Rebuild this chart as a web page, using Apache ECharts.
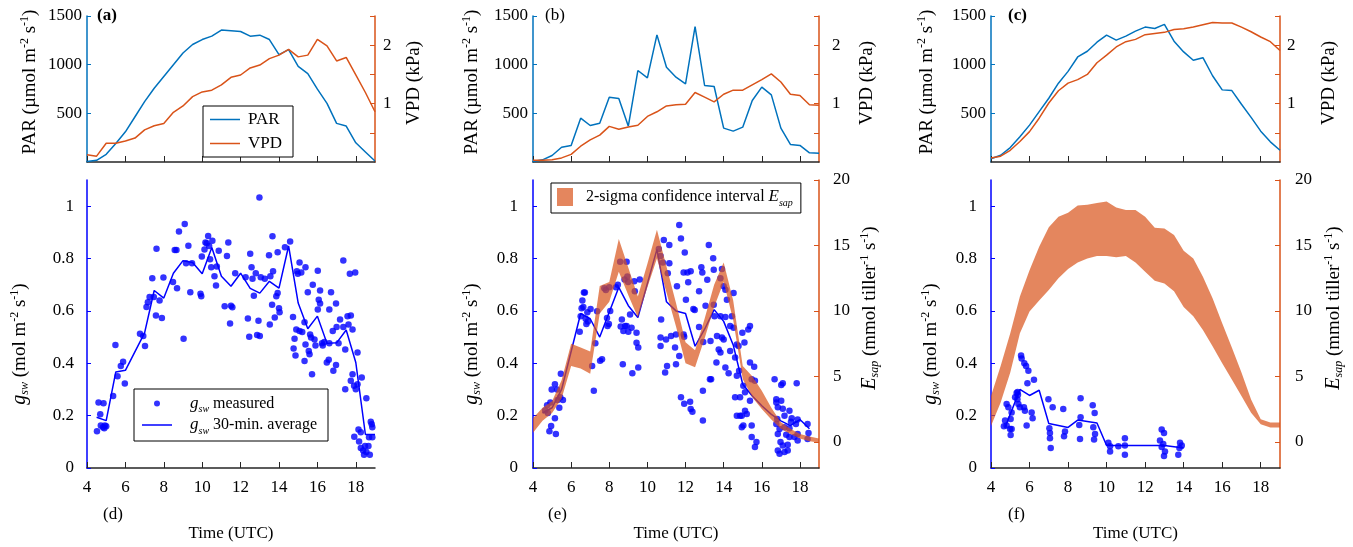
<!DOCTYPE html>
<html>
<head>
<meta charset="utf-8">
<script src="https://cdn.jsdelivr.net/npm/echarts@6.0.0/dist/echarts.min.js"></script>
<style>
  html, body { margin: 0; padding: 0; background: #fff; }
  #chart { width: 1353px; height: 547px; }
</style>
</head>
<body>
<div id="chart"></div>
<script>
// ---------- data ----------
// half-hourly time stamps (UTC) used by the PAR / VPD records and the sap-flow bands
const HOURS = [4, 4.5, 5, 5.5, 6, 6.5, 7, 7.5, 8, 8.5, 9, 9.5, 10, 10.5, 11, 11.5, 12, 12.5, 13, 13.5, 14, 14.5, 15, 15.5, 16, 16.5, 17, 17.5, 18, 18.5, 19];

// PAR (µmol m-2 s-1) and VPD (kPa), days a, b, c
const PAR_A = [5, 17, 79, 190, 310, 465, 620, 758, 879, 1000, 1120, 1207, 1258, 1293, 1355, 1348, 1341, 1293, 1303, 1258, 1103, 1155, 983, 907, 748, 603, 397, 369, 197, 103, 10];
const VPD_A = [0.125, 0.10, 0.32, 0.32, 0.36, 0.41, 0.55, 0.62, 0.66, 0.85, 0.96, 1.12, 1.20, 1.23, 1.32, 1.45, 1.49, 1.61, 1.66, 1.77, 1.83, 1.93, 1.80, 1.83, 2.10, 1.99, 1.73, 1.79, 1.49, 1.19, 0.86];
const PAR_B = [5, 22, 67, 152, 170, 450, 375, 399, 666, 652, 368, 940, 865, 1306, 974, 871, 803, 1392, 786, 776, 348, 317, 358, 632, 769, 690, 348, 180, 170, 94, 91];
const VPD_B = [0.03, 0.03, 0.04, 0.07, 0.13, 0.27, 0.38, 0.46, 0.61, 0.56, 0.60, 0.63, 0.78, 0.86, 0.96, 0.98, 0.99, 1.19, 1.11, 1.03, 1.16, 1.23, 1.23, 1.32, 1.41, 1.51, 1.37, 1.16, 1.14, 0.98, 0.97];
const PAR_C = [34, 69, 148, 259, 379, 517, 655, 810, 931, 1079, 1138, 1231, 1303, 1252, 1293, 1345, 1386, 1372, 1414, 1241, 1131, 1045, 1072, 886, 741, 734, 593, 459, 317, 207, 121];
const VPD_C = [0.07, 0.10, 0.20, 0.35, 0.52, 0.75, 1.01, 1.22, 1.35, 1.41, 1.50, 1.70, 1.83, 1.97, 2.06, 2.10, 2.18, 2.20, 2.22, 2.27, 2.28, 2.31, 2.35, 2.39, 2.38, 2.38, 2.31, 2.23, 2.14, 2.06, 1.91];

// 30-min averages of stomatal conductance g_sw (mol m-2 s-1)
const AVG_T_D = [4.5, 5, 5.5, 6, 7, 7.5, 8, 8.5, 9, 9.5, 10, 10.5, 11, 11.5, 12, 12.5, 13, 13.5, 14, 14.5, 15, 15.5, 16, 16.5, 17, 17.5, 18, 18.5, 19];
const AVG_G_D = [0.194, 0.181, 0.367, 0.373, 0.516, 0.678, 0.649, 0.744, 0.792, 0.785, 0.742, 0.842, 0.732, 0.694, 0.744, 0.686, 0.668, 0.713, 0.687, 0.848, 0.630, 0.532, 0.580, 0.476, 0.478, 0.527, 0.403, 0.128, 0.128];
const AVG_T_E = [4.5, 5, 5.5, 6.5, 7, 7.5, 8.5, 9, 9.5, 10.5, 11, 11.5, 12, 12.5, 13, 13.5, 14, 14.5, 15, 15.5, 16, 16.5, 17, 17.5, 18, 18.5];
const AVG_G_E = [0.21, 0.23, 0.30, 0.59, 0.57, 0.50, 0.69, 0.62, 0.575, 0.835, 0.635, 0.60, 0.59, 0.465, 0.53, 0.605, 0.56, 0.47, 0.32, 0.275, 0.238, 0.205, 0.18, 0.162, 0.185, 0.15];
const AVG_T_F = [4.75, 5.5, 6, 6.5, 7, 8, 8.5, 9.5, 10, 13, 14];
const AVG_G_F = [0.158, 0.30, 0.277, 0.297, 0.17, 0.155, 0.183, 0.172, 0.086, 0.086, 0.076];

// measured g_sw, [time, value]
const GSW_D = [
  [4.52,0.14],[4.60,0.25],[4.69,0.205],[4.86,0.247],[4.72,0.162],[4.83,0.156],[4.93,0.162],[5.00,0.159],[4.90,0.152],[5.36,0.275],
  [5.48,0.47],[5.59,0.35],[5.76,0.39],[5.88,0.406],[5.97,0.323],[6.76,0.513],[6.93,0.504],[7.02,0.466],[7.10,0.615],[7.17,0.633],
  [7.26,0.653],[7.40,0.725],[7.48,0.653],[7.62,0.837],[7.59,0.582],[7.78,0.64],[7.90,0.573],[7.98,0.728],[8.48,0.71],[8.57,0.833],
  [8.66,0.833],[8.69,0.687],[8.79,0.903],[9.09,0.932],[9.03,0.494],[9.16,0.782],[9.28,0.849],[9.38,0.671],[9.47,0.782],[9.91,0.666],
  [9.95,0.656],[9.98,0.808],[10.12,0.835],[10.17,0.861],[10.24,0.858],[10.31,0.886],[10.36,0.848],[10.41,0.797],[10.47,0.767],[10.53,0.868],
  [10.64,0.732],[10.72,0.697],[10.76,0.77],[10.86,0.83],[11.17,0.618],[11.29,0.81],[11.36,0.861],[11.45,0.552],[11.50,0.62],[11.57,0.614],
  [11.72,0.744],[12.26,0.729],[12.38,0.571],[12.45,0.501],[12.50,0.818],[12.57,0.767],[12.62,0.723],[12.69,0.658],[12.79,0.744],[12.86,0.508],
  [12.93,0.562],[12.98,1.033],[13.00,0.504],[13.05,0.729],[13.26,0.723],[13.48,0.813],[13.52,0.548],[13.55,0.732],[13.64,0.624],[13.66,0.885],
  [13.69,0.751],[13.78,0.575],[13.86,0.656],[13.93,0.668],[13.93,0.824],[14.00,0.61],[14.03,0.595],[14.31,0.843],
  [14.58,0.865],[15.07,0.785],[14.93,0.751],[14.98,0.742],[15.16,0.747],[15.38,0.767],[16.02,0.753],[15.76,0.70],[15.5,0.671],[16.14,0.678],
  [16.07,0.643],[16.14,0.628],[16.02,0.605],[16.71,0.671],[16.62,0.605],[16.97,0.628],[17.35,0.793],[17.69,0.742],[17.97,0.747],[14.73,0.577],
  [15.33,0.557],[14.81,0.494],[14.9,0.529],[15.07,0.523],[15.21,0.519],[15.62,0.51],[15.67,0.498],[15.85,0.491],[15.38,0.472],[15.9,0.468],
  [14.76,0.456],[14.86,0.43],[15.55,0.447],[15.59,0.434],[15.33,0.409],[15.72,0.358],[16.24,0.476],[16.28,0.468],[16.36,0.481],[16.62,0.476],
  [16.8,0.523],[17.0,0.539],[17.1,0.476],[17.18,0.567],[17.35,0.539],[17.57,0.58],[17.74,0.582],[17.62,0.548],[17.83,0.529],[17.45,0.453],
  [18.09,0.441],[16.49,0.403],[16.59,0.413],[16.97,0.393],[16.83,0.371],[17.83,0.358],[18.31,0.346],[17.74,0.333],[17.91,0.314],[17.45,0.301],
  [18.0,0.301],[18.09,0.32],[18.55,0.266],[18.78,0.177],[18.83,0.167],[18.86,0.156],[18.14,0.147],[18.26,0.137],[17.92,0.119],[18.17,0.101],
  [18.69,0.117],[18.86,0.117],[18.48,0.084],[18.66,0.084],[18.26,0.076],[18.38,0.067],[18.55,0.061],[18.43,0.051],[18.73,0.051]
];
const GSW_E = [
  [4.64,0.22],[4.74,0.24],[4.78,0.21],[4.86,0.14],[4.91,0.25],[4.95,0.16],[4.98,0.30],[5.15,0.19],[5.15,0.32],[5.2,0.13],
  [5.26,0.30],[5.29,0.26],[5.38,0.23],[5.43,0.27],[5.46,0.36],[5.57,0.26],[6.45,0.52],[6.5,0.58],[6.55,0.61],[6.59,0.64],
  [6.64,0.615],[6.67,0.67],[6.72,0.67],[6.76,0.57],[6.85,0.595],[6.88,0.56],[7.02,0.607],[7.1,0.39],[7.19,0.295],[6.8,0.55],
  [7.27,0.476],[7.36,0.599],[7.52,0.41],[7.62,0.415],[7.74,0.687],[7.82,0.68],[7.88,0.573],[7.91,0.542],[8.0,0.69],[8.05,0.60],
  [7.98,0.55],[8.35,0.69],[8.45,0.70],[8.57,0.788],[8.66,0.567],[8.71,0.396],[8.74,0.523],[8.83,0.542],[8.91,0.788],[8.95,0.731],
  [8.8,0.72],[8.6,0.54],[9.0,0.52],[9.31,0.713],[9.34,0.675],[9.6,0.72],[8.99,0.71],[9.09,0.586],[9.17,0.536],[8.91,0.542],
  [9.43,0.517],[9.43,0.478],[9.52,0.46],[9.52,0.384],[9.21,0.362],[10.6,0.836],[10.69,0.81],[10.81,0.785],[10.86,0.871],[11.15,0.852],
  [10.72,0.567],[10.69,0.498],[10.69,0.466],[10.98,0.491],[11.03,0.39],[10.93,0.365],[11.07,0.744],[11.15,0.782],[11.24,0.504],[11.45,0.46],
  [11.5,0.51],[11.5,0.396],[11.55,0.694],[11.67,0.928],[11.76,0.877],[11.96,0.823],[11.9,0.747],[12.1,0.747],[12.27,0.751],[12.14,0.709],
  [12.02,0.643],[11.9,0.51],[11.93,0.501],[11.67,0.428],[11.76,0.27],[11.93,0.245],[12.24,0.253],[12.27,0.225],[12.36,0.215],[12.41,0.607],
  [12.48,0.603],[12.71,0.675],[12.71,0.539],[12.83,0.767],[12.88,0.747],[12.93,0.481],[12.91,0.295],[12.91,0.181],[13.14,0.719],[13.22,0.852],
  [13.45,0.801],[13.48,0.757],[13.48,0.624],[13.52,0.58],[13.65,0.504],[13.74,0.453],[13.62,0.403],[13.31,0.485],[13.28,0.339],[13.34,0.339],
  [13.05,0.62],[13.91,0.76],[13.83,0.725],[14.0,0.694],[14.09,0.681],[14.17,0.643],[14.52,0.668],[14.43,0.58],[13.83,0.58],[14.09,0.577],
  [14.34,0.542],[13.91,0.498],[14.0,0.491],[13.83,0.441],[14.52,0.536],[14.69,0.472],[14.78,0.466],[14.98,0.517],[15.09,0.479],[15.29,0.529],
  [15.38,0.542],[14.34,0.447],[14.6,0.422],[14.09,0.384],[14.26,0.362],[14.69,0.352],[14.81,0.371],[15.03,0.314],[15.12,0.289],[14.6,0.27],
  [14.86,0.27],[15.38,0.403],[15.6,0.387],[15.47,0.339],[15.64,0.333],[15.38,0.257],[14.69,0.2],[14.86,0.2],[14.95,0.2],[15.12,0.219],
  [15.21,0.206],[15.03,0.162],[14.95,0.156],[15.47,0.162],[15.47,0.118],[15.72,0.099],[15.64,0.08],[16.67,0.339],[17.1,0.324],[17.02,0.317],
  [17.83,0.324],[16.76,0.263],[16.76,0.25],[17.02,0.257],[16.84,0.232],[17.1,0.226],[17.45,0.219],[17.19,0.2],[16.81,0.187],[17.57,0.19],
  [17.53,0.177],[17.88,0.185],[16.76,0.168],[16.93,0.149],[17.19,0.156],[17.45,0.152],[17.79,0.168],[16.84,0.13],[17.28,0.127],[17.45,0.118],
  [17.71,0.118],[17.88,0.13],[16.98,0.099],[17.36,0.089],[17.88,0.105],[18.4,0.168],[18.45,0.134],[16.84,0.067],[16.93,0.054],[17.19,0.061],
  [17.36,0.067],[17.1,0.086],[18.4,0.111]
];
const GSW_F = [
  [5.56,0.43],[5.59,0.418],[5.73,0.40],[5.82,0.39],[5.94,0.371],[6.23,0.337],[5.89,0.324],[5.33,0.286],[5.25,0.27],[5.37,0.263],
  [5.42,0.244],[5.5,0.232],[5.71,0.232],[5.76,0.219],[6.11,0.212],[6.16,0.19],[5.85,0.162],[4.81,0.244],[4.9,0.232],[5.07,0.212],
  [5.02,0.187],[4.73,0.181],[4.81,0.162],[4.99,0.149],[5.07,0.149],[4.67,0.159],[5.02,0.126],[6.98,0.263],[7.2,0.232],[7.75,0.225],
  [7.03,0.152],[7.06,0.134],[7.06,0.114],[7.1,0.076],[7.84,0.139],[7.79,0.121],[8.65,0.266],[8.65,0.194],[8.58,0.164],[8.62,0.111],
  [9.28,0.24],[9.38,0.21],[9.31,0.156],[9.4,0.13],[9.35,0.109],[10.09,0.096],[10.18,0.083],[10.61,0.083],[10.95,0.114],[10.95,0.086],
  [10.18,0.063],[10.95,0.051],[12.86,0.147],[12.98,0.134],[12.77,0.105],[12.94,0.092],[12.86,0.08],[13.03,0.063],[12.98,0.046],[13.81,0.096],
  [13.78,0.076],[13.72,0.051],[13.9,0.086],[5.38,0.29],[5.4,0.28]
];

// 2-sigma confidence interval of E_sap (mmol tiller-1 s-1), upper and lower bounds on HOURS
const ESAP_UP_E = [1.8, 2.6, 3.1, 4.7, 7.5, 7.2, 6.9, 11.9, 12.2, 15.5, 13.3, 11.1, 13.6, 16.2, 13.4, 10.6, 7.6, 7.0, 9.4, 12.0, 13.7, 10.8, 5.8, 5.0, 3.9, 2.6, 1.5, 1.0, 0.6, 0.4, 0.25];
const ESAP_LO_E = [0.7, 1.6, 2.2, 3.3, 5.8, 5.6, 5.2, 9.8, 10.7, 13.0, 11.2, 9.5, 11.8, 14.0, 11.4, 8.8, 6.0, 5.7, 7.9, 10.3, 12.2, 9.3, 4.8, 3.4, 2.5, 1.7, 1.0, 0.6, 0.25, 0.05, -0.05];
const ESAP_UP_F = [3.5, 5.8, 8.3, 11.1, 13.1, 14.9, 16.4, 17.2, 17.5, 18.05, 18.1, 18.25, 18.35, 17.9, 17.7, 17.7, 17.2, 16.35, 16.3, 15.8, 14.6, 14.0, 12.6, 10.96, 9.06, 7.2, 5.3, 3.24, 1.72, 1.47, 1.47];
const ESAP_LO_F = [1.2, 3.0, 5.3, 8.3, 9.95, 10.8, 11.6, 12.5, 13.2, 13.7, 14.0, 14.2, 14.2, 14.1, 14.2, 13.7, 13.0, 12.3, 12.1, 11.5, 10.3, 9.6, 8.55, 7.3, 6.0, 4.76, 3.5, 2.23, 1.34, 1.09, 1.09];

// axis ticks
const TIME_TICKS = [4, 6, 8, 10, 12, 14, 16, 18];
const PAR_TICKS = [500, 1000, 1500];
const VPD_TICKS = [0.5, 1, 1.5, 2, 2.5];
const VPD_LABELS = [1, 2];
const GSW_TICKS = [0, 0.2, 0.4, 0.6, 0.8, 1];
const ESAP_TICKS = [0, 5, 10, 15, 20];

// ---------- styling ----------
const SERIF = '"Liberation Serif", "Times New Roman", serif';
const PAR_BLUE = '#0072BD';
const VPD_ORANGE = '#D95319';
const GSW_BLUE = '#0000FF';
const AXIS_DARK = '#262626';
const BAND_FILL = 'rgba(217,83,25,0.7)';
const FS = 17;

function richSet(size) {
  return {
    n: { fontFamily: SERIF, fontSize: size, color: '#000', lineHeight: 22 },
    i: { fontFamily: SERIF, fontSize: size + 1, fontStyle: 'italic', color: '#000', lineHeight: 22 },
    sub: { fontFamily: SERIF, fontSize: Math.round(size * 0.62), fontStyle: 'italic', color: '#000', verticalAlign: 'bottom' },
    sup: { fontFamily: SERIF, fontSize: Math.round(size * 0.62), color: '#000', verticalAlign: 'top' }
  };
}
const RICH_NAME = richSet(19);
const RICH_LEGEND = richSet(16);

const NAME_PAR = '{n|PAR (µmol m}{sup|-2}{n| s}{sup|-1}{n|)}';
const NAME_VPD = '{n|VPD (kPa)}';
const NAME_GSW = '{i|g}{sub|sw}{n| (mol m}{sup|-2}{n| s}{sup|-1}{n|)}';
const NAME_ESAP = '{i|E}{sub|sap}{n| (mmol tiller}{sup|-1}{n| s}{sup|-1}{n|)}';

const BAND_NAME = '2-sigma confidence interval Esap';
const LINE_ICON = 'path://M0,0L20,0L20,1L0,1Z';

const pairs = (xs, ys) => xs.map((x, k) => [x, ys[k]]);
const tickLabel = (extra) => Object.assign({ fontFamily: SERIF, fontSize: FS, color: '#000', formatter: (v) => String(v) }, extra);
// rotated axis titles: horizontal padding slides the title along its axis
const nameStyle = (pad) => ({ rich: RICH_NAME, padding: pad });

// panel columns: left edge and width of the plot area
const COLS = [
  { left: 87, width: 288, parGap: 46, vpdGap: 28, vpdMargin: 8, gswGap: 56, gswMargin: 13, esapGap: 40, esapMargin: 14 },
  { left: 533, width: 286, parGap: 50, vpdGap: 37, vpdMargin: 13, gswGap: 50, gswMargin: 15, esapGap: 40, esapMargin: 14 },
  { left: 991, width: 289, parGap: 53, vpdGap: 38, vpdMargin: 7, gswGap: 49, gswMargin: 14, esapGap: 43, esapMargin: 15 }
];
const TOP = { top: 16, height: 146 };
const BOTTOM = { top: 180, height: 289 };

const grids = [], xAxes = [], yAxes = [], series = [];

function timeAxis(gridIndex, labelled) {
  return {
    type: 'value', gridIndex, min: 4, max: 19,
    axisLine: { show: true, onZero: false, lineStyle: { color: AXIS_DARK, width: 1.5 } },
    axisTick: { show: true, inside: true, length: 6, customValues: TIME_TICKS, lineStyle: { color: AXIS_DARK } },
    axisLabel: { show: labelled, customValues: TIME_TICKS, margin: 11, fontFamily: SERIF, fontSize: FS, color: '#000' },
    splitLine: { show: false },
    name: labelled ? 'Time (UTC)' : '', nameLocation: 'middle', nameGap: 57,
    nameTextStyle: { fontFamily: SERIF, fontSize: FS, color: '#000' }
  };
}

function bandSeries(name, xIdx, yIdx, up, lo) {
  return {
    type: 'custom', name, xAxisIndex: xIdx, yAxisIndex: yIdx, z: 5, silent: true,
    itemStyle: { color: BAND_FILL },
    encode: { x: 0, y: [1, 2] },
    data: HOURS.map((t, k) => [t, up[k], lo[k]]),
    renderItem: function (params, api) {
      if (params.dataIndex !== 0) return null;
      const pts = [];
      for (let k = 0; k < HOURS.length; k++) pts.push(api.coord([HOURS[k], up[k]]));
      for (let k = HOURS.length - 1; k >= 0; k--) pts.push(api.coord([HOURS[k], lo[k]]));
      return { type: 'polygon', shape: { points: pts }, style: { fill: BAND_FILL } };
    }
  };
}

const PAR_SETS = [PAR_A, PAR_B, PAR_C];
const VPD_SETS = [VPD_A, VPD_B, VPD_C];

// upper row: PAR (left axis) and VPD (right axis)
COLS.forEach((c, k) => {
  const g = grids.length;
  grids.push({ left: c.left, width: c.width, top: TOP.top, height: TOP.height });
  xAxes.push(timeAxis(g, false));
  const parIdx = yAxes.length;
  yAxes.push({
    type: 'value', gridIndex: g, position: 'left', min: 0, max: 1500,
    axisLine: { show: true, onZero: false, lineStyle: { color: PAR_BLUE, width: 1.5 } },
    axisTick: { show: true, inside: true, length: 4, customValues: PAR_TICKS, lineStyle: { color: PAR_BLUE } },
    axisLabel: tickLabel({ customValues: PAR_TICKS, margin: 5 }),
    splitLine: { show: false },
    name: NAME_PAR, nameLocation: 'middle', nameGap: c.parGap, nameTextStyle: nameStyle([0, 0, 0, 14])
  });
  const vpdIdx = yAxes.length;
  yAxes.push({
    type: 'value', gridIndex: g, position: 'right', min: 0, max: 2.5,
    axisLine: { show: true, onZero: false, lineStyle: { color: VPD_ORANGE, width: 1.5 } },
    axisTick: { show: true, inside: true, length: 5, customValues: VPD_TICKS, lineStyle: { color: VPD_ORANGE } },
    axisLabel: tickLabel({ customValues: VPD_LABELS, margin: c.vpdMargin }),
    splitLine: { show: false },
    name: NAME_VPD, nameLocation: 'middle', nameGap: c.vpdGap, nameTextStyle: nameStyle([0, 0, 0, 12])
  });
  series.push({
    type: 'line', name: 'PAR', xAxisIndex: g, yAxisIndex: parIdx, data: pairs(HOURS, PAR_SETS[k]),
    symbol: 'none', lineStyle: { color: PAR_BLUE, width: 1.5 }, itemStyle: { color: PAR_BLUE }
  });
  series.push({
    type: 'line', name: 'VPD', xAxisIndex: g, yAxisIndex: vpdIdx, data: pairs(HOURS, VPD_SETS[k]),
    symbol: 'none', lineStyle: { color: VPD_ORANGE, width: 1.5 }, itemStyle: { color: VPD_ORANGE }
  });
});

// lower row: g_sw (left axis) and, where measured, E_sap (right axis)
const GSW_SETS = [GSW_D, GSW_E, GSW_F];
const AVG_SETS = [[AVG_T_D, AVG_G_D], [AVG_T_E, AVG_G_E], [AVG_T_F, AVG_G_F]];
const BAND_SETS = [null, [ESAP_UP_E, ESAP_LO_E], [ESAP_UP_F, ESAP_LO_F]];

COLS.forEach((c, k) => {
  const g = grids.length;
  grids.push({ left: c.left, width: c.width, top: BOTTOM.top, height: BOTTOM.height });
  xAxes.push(timeAxis(g, true));
  const gswIdx = yAxes.length;
  yAxes.push({
    type: 'value', gridIndex: g, position: 'left', min: 0, max: 1.1,
    axisLine: { show: true, onZero: false, lineStyle: { color: GSW_BLUE, width: 1.5 } },
    axisTick: { show: true, inside: true, length: 4, customValues: GSW_TICKS, lineStyle: { color: GSW_BLUE } },
    axisLabel: tickLabel({ customValues: GSW_TICKS, margin: c.gswMargin }),
    splitLine: { show: false },
    name: NAME_GSW, nameLocation: 'middle', nameGap: c.gswGap, nameTextStyle: nameStyle([0, 40, 0, 0])
  });
  series.push({
    type: 'scatter', name: 'gsw measured', xAxisIndex: g, yAxisIndex: gswIdx, data: GSW_SETS[k],
    symbol: 'circle', symbolSize: 6.5, itemStyle: { color: GSW_BLUE }, z: 2
  });
  series.push({
    type: 'line', name: 'gsw 30-min. average', xAxisIndex: g, yAxisIndex: gswIdx,
    data: pairs(AVG_SETS[k][0], AVG_SETS[k][1]),
    symbol: 'none', lineStyle: { color: GSW_BLUE, width: 1.5 }, itemStyle: { color: GSW_BLUE }, z: 3
  });
  if (BAND_SETS[k]) {
    const esapIdx = yAxes.length;
    yAxes.push({
      type: 'value', gridIndex: g, position: 'right', min: -2, max: 20,
      axisLine: { show: true, onZero: false, lineStyle: { color: VPD_ORANGE, width: 1.5 } },
      axisTick: { show: true, inside: true, length: 5, customValues: ESAP_TICKS, lineStyle: { color: VPD_ORANGE } },
      axisLabel: tickLabel({ customValues: ESAP_TICKS, margin: c.esapMargin }),
      splitLine: { show: false },
      name: NAME_ESAP, nameLocation: 'middle', nameGap: c.esapGap, nameTextStyle: nameStyle([0, 0, 0, 32])
    });
    series.push(bandSeries(BAND_NAME, g, esapIdx, BAND_SETS[k][0], BAND_SETS[k][1]));
  }
});

const panelTitle = (text, left, top, bold) => ({
  text, left, top, padding: 0,
  textStyle: { fontFamily: SERIF, fontSize: FS, fontWeight: bold ? 'bold' : 'normal', color: '#000' }
});

const legendBox = { backgroundColor: '#fff', borderColor: '#000', borderWidth: 1, selectedMode: false, orient: 'vertical' };

const option = {
  animation: false,
  backgroundColor: '#fff',
  title: [
    panelTitle('(a)', 97, 7, true), panelTitle('(b)', 545, 7, false), panelTitle('(c)', 1008, 7, true),
    panelTitle('(d)', 103, 506, false), panelTitle('(e)', 548, 506, false), panelTitle('(f)', 1008, 506, false)
  ],
  grid: grids,
  xAxis: xAxes,
  yAxis: yAxes,
  legend: [
    Object.assign({}, legendBox, {
      left: 203, top: 106, itemWidth: 30, itemHeight: 14, itemGap: 7, padding: [5, 11, 5, 7],
      data: [{ name: 'PAR', icon: LINE_ICON }, { name: 'VPD', icon: LINE_ICON }],
      textStyle: { fontFamily: SERIF, fontSize: FS, color: '#000', padding: [0, 0, 0, 3] }
    }),
    Object.assign({}, legendBox, {
      left: 134, top: 389, itemWidth: 30, itemHeight: 6, itemGap: 2, padding: [6, 11, 5, 8],
      data: [{ name: 'gsw measured', icon: 'circle' }, { name: 'gsw 30-min. average', icon: LINE_ICON }],
      formatter: (name) => name === 'gsw measured'
        ? '{i|g}{sub|sw}{n| measured}'
        : '{i|g}{sub|sw}{n| 30-min. average}',
      textStyle: { fontFamily: SERIF, fontSize: 16, color: '#000', padding: [0, 0, 0, 13], rich: RICH_LEGEND }
    }),
    Object.assign({}, legendBox, {
      left: 551, top: 183, itemWidth: 16, itemHeight: 18, padding: [5, 8, 5, 6],
      data: [{ name: BAND_NAME, icon: 'rect', itemStyle: { color: BAND_FILL } }],
      formatter: () => '{n|2-sigma confidence interval }{i|E}{sub|sap}',
      textStyle: { fontFamily: SERIF, fontSize: 16, color: '#000', padding: [0, 0, 0, 8], rich: RICH_LEGEND }
    })
  ],
  series
};

const chart = echarts.init(document.getElementById('chart'), null, { renderer: 'canvas' });
chart.setOption(option);
</script>
</body>
</html>
